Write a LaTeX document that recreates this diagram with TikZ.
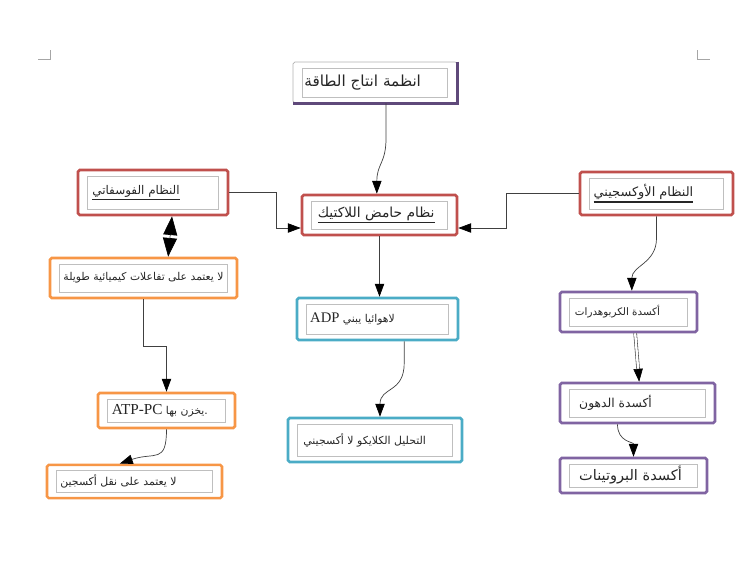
\documentclass[tikz,border=0pt]{standalone}
\usepackage{fontspec}
\usepackage{tikz}
\usepackage{xcolor}
\usetikzlibrary{arrows.meta}
\TeXXeTstate=1
\newfontfamily\arabicfont[Script=Arabic]{DejaVu Sans}
\newfontfamily\latinfont{Liberation Serif}
\newcommand{\lat}[1]{\beginL{\latinfont #1}\endL}
\newcommand{\thickul}[1]{\setbox0\hbox{#1}\vtop{\copy0\kern1.2pt\hrule height 1.1pt width \wd0}}
\definecolor{boxred}{HTML}{C0504D}
\definecolor{boxorange}{HTML}{F79646}
\definecolor{boxblue}{HTML}{4BACC6}
\definecolor{boxpurple}{HTML}{8064A2}
\definecolor{titleshade}{HTML}{5F497A}
\definecolor{linegray}{HTML}{404040}

\tikzset{
  box/.style={draw=#1, line width=2.2pt, rounded corners=1.5pt, fill=white, inner sep=0pt,
    path picture={\draw[black!25, line width=0.5pt, sharp corners]
      ([shift={(8pt,5pt)}]path picture bounding box.south west) rectangle
      ([shift={(-8pt,-5pt)}]path picture bounding box.north east);}},
  fs/.style={font=\arabicfont\fontsize{#1}{#1}\selectfont},
  txt/.style={inner sep=1pt, text=black!85},
  conn/.style={draw=linegray, line width=0.6pt, -{Triangle[width=8pt,length=11pt,color=black]}},
  dblconn/.style={draw=linegray, double, double distance=2pt, line width=0.5pt, -{Triangle[width=8pt,length=11pt,color=black]}},
  bothconn/.style={draw=linegray, line width=0.6pt, {Triangle[width=12pt,length=16pt,color=black]}-{Triangle[width=12pt,length=16pt,color=black]}},
  cropmark/.style={draw=black!35, line width=0.5pt}
}

\begin{document}
\begin{tikzpicture}[x=0.03cm, y=-0.03cm]
  \useasboundingbox (0,0) rectangle (750,587);

  % page corner marks
  \draw[cropmark] (38,59) -- (50,59) -- (50,50);
  \draw[cropmark] (697,50) -- (697,59) -- (710,59);

  % title
  \node[box=black!30, line width=0.6pt, minimum width=4.92cm, minimum height=1.23cm,
    label={[txt, fs=13, xshift=-0.37cm]center:\beginR انظمة انتاج الطاقة\endR}] (title) at (375,82.5) {};
  \draw[titleshade, line width=2.2pt] (title.north east) -- (title.south east) -- (title.south west);

  % the three systems
  \node[box=boxred, minimum width=4.5cm, minimum height=1.35cm,
    label={[txt, fs=10.2, xshift=-0.51cm]center:\thickul{\beginR النظام الفوسفاتي\endR}}] (phos) at (153,192.5) {};
  \node[box=boxred, minimum width=4.65cm, minimum height=1.2cm,
    label={[txt, fs=11.8, xshift=-0.1cm]center:\thickul{\beginR نظام حامض اللاكتيك\endR}}] (lact) at (379.5,215) {};
  \node[box=boxred, minimum width=4.59cm, minimum height=1.29cm,
    label={[txt, fs=11, xshift=-0.39cm]center:\thickul{\beginR النظام الأوكسجيني\endR}}] (oxy) at (656.5,193.5) {};

  % phosphate branch
  \node[box=boxorange, minimum width=5.61cm, minimum height=1.2cm,
    label={[txt, fs=9.2]center:\beginR لا يعتمد على تفاعلات كيميائية طويلة\endR}] (chem) at (143.5,278) {};
  \node[box=boxorange, minimum width=4.11cm, minimum height=1.05cm,
    label={[txt, fs=9.2, xshift=-0.2cm]center:\beginR .يخزن بها \lat{\fontsize{13}{13}\selectfont ATP-PC}\endR}] (atppc) at (166.5,410.5) {};
  \node[box=boxorange, minimum width=5.25cm, minimum height=1cm,
    label={[txt, fs=9.3, xshift=-0.48cm]center:\beginR لا يعتمد على نقل أكسجين\endR}] (nooxy) at (134.5,481.5) {};

  % lactic branch
  \node[box=boxblue, minimum width=4.83cm, minimum height=1.26cm,
    label={[txt, fs=9.2, xshift=-0.75cm]center:\beginR لاهوائيا يبني \lat{\fontsize{12.5}{12.5}\selectfont ADP}\endR}] (adp) at (377.5,319) {};
  \node[box=boxblue, minimum width=5.22cm, minimum height=1.32cm,
    label={[txt, fs=9.3, xshift=-0.31cm]center:\beginR التحليل الكلايكو لا أكسجيني\endR}] (glyc) at (375,440) {};

  % oxygen branch
  \node[box=boxpurple, minimum width=4.11cm, minimum height=1.2cm,
    label={[txt, fs=8.8, xshift=-0.33cm]center:\beginR أكسدة الكربوهدرات\endR}] (carb) at (628.5,312) {};
  \node[box=boxpurple, minimum width=4.65cm, minimum height=1.2cm,
    label={[txt, fs=10.5, xshift=-0.66cm]center:\beginR أكسدة الدهون\endR}] (fat) at (637.5,403) {};
  \node[box=boxpurple, minimum width=4.41cm, minimum height=1.05cm,
    label={[txt, fs=12.4, xshift=-0.09cm]center:\beginR أكسدة البروتينات\endR}] (prot) at (633.5,475.5) {};

  % connectors
  \draw[conn] ([xshift=0.33cm]title.south) -- ++(0,35) .. controls +(0,25) and +(0,-30) .. ([xshift=-0.08cm]lact.north);
  \draw[conn] (phos.east) -- ++(47,0) |- ([yshift=-0.39cm]lact.west);
  \draw[conn] (oxy.west) -- ++(-72,0) |- ([yshift=-0.39cm]lact.east);
  \draw[bothconn] ([xshift=0.57cm]phos.south) -- ([xshift=0.74cm]chem.north);
  \draw[conn] (chem.south) -- ++(0,47) -| (atppc.north);
  \draw[conn] (atppc.south) .. controls +(0,35) and +(35,-12) .. ([xshift=-0.44cm]nooxy.north);
  \draw[conn] (lact.south) -- (lact.south |- adp.north);
  \draw[conn] ([xshift=0.8cm]adp.south) -- ++(0,22) .. controls +(0,30) and +(0,-30) .. ([xshift=0.15cm]glyc.north);
  \draw[conn] (oxy.south) -- ++(0,22) .. controls +(0,25) and +(0,-25) .. ([xshift=0.1cm]carb.north);
  \draw[dblconn] ([xshift=0.2cm]carb.south) -- ([xshift=0.05cm]fat.north);
  \draw[conn] ([xshift=-0.6cm]fat.south) .. controls +(0,18) and +(0,-15) .. (prot.north);
\end{tikzpicture}
\end{document}
